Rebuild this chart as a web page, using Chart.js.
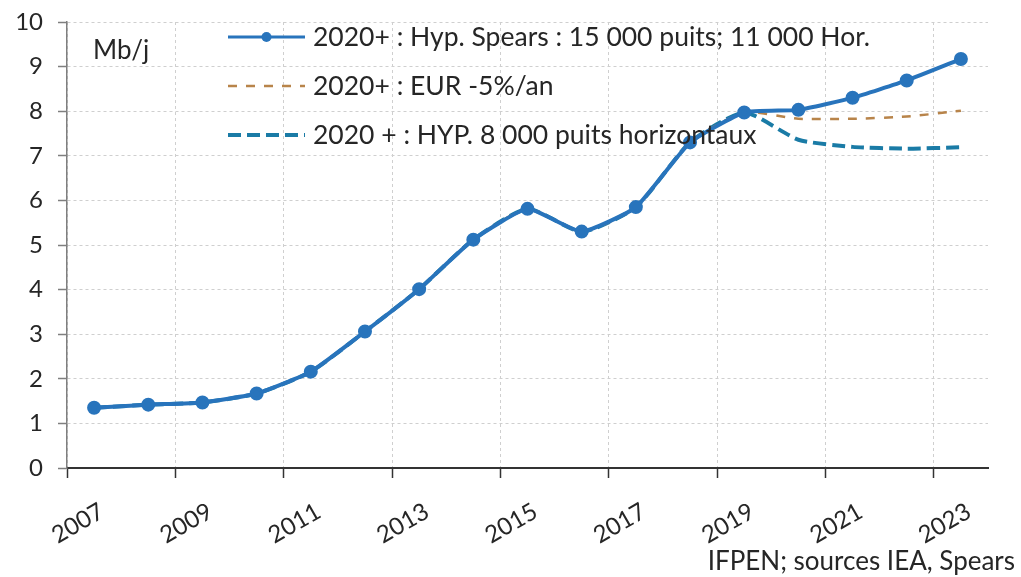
<!DOCTYPE html>
<html><head><meta charset="utf-8">
<script src="https://cdn.jsdelivr.net/npm/chart.js@4.4.1/dist/chart.umd.min.js"></script>
<style>html,body{margin:0;padding:0;background:#fff}#wrap{width:1021px;height:577px;position:relative}</style>
</head><body><div id="wrap"><canvas id="c" width="1021" height="577"></canvas></div>
<script>
// ---- data ----
const years = [2007,2008,2009,2010,2011,2012,2013,2014,2015,2016,2017,2018,2019,2020,2021,2022,2023];
const spears  = [1.35,1.42,1.47,1.67,2.16,3.06,4.01,5.12,5.81,5.30,5.85,7.30,7.97,8.03,8.30,8.69,9.17];
const eur5    = [1.35,1.42,1.47,1.67,2.16,3.06,4.01,5.12,5.81,5.30,5.85,7.30,7.97,7.83,7.83,7.88,8.01];
const hyp8000 = [1.35,1.42,1.47,1.67,2.16,3.06,4.01,5.12,5.81,5.30,5.85,7.30,7.97,7.36,7.20,7.16,7.19];
const tickYears = [2007,2009,2011,2013,2015,2017,2019,2021,2023];
const seriesLabels = [
  "2020+ : Hyp. Spears : 15 000 puits; 11 000 Hor.",
  "2020+ : EUR -5%/an",
  "2020 + : HYP. 8 000 puits horizontaux"
];
const unitLabel = "Mb/j";
const sourceLabel = "IFPEN; sources IEA, Spears";

const FONT = "Lato, 'Open Sans', sans-serif";
const TXT = '#262626';

// mid-year placement of annual values
const pts = arr => arr.map((v,i)=>({x: years[i] + 0.5, y: v}));

const overlayPlugin = {
  id: 'overlay',
  afterDatasetsDraw(chart){
    const ctx = chart.ctx, ca = chart.chartArea;
    const x0 = ca.left + 161, x1 = ca.left + 238, tx = ca.left + 246;
    const rows = [15, 64, 113];
    chart.data.datasets.forEach((ds,i)=>{
      const yy = ca.top + rows[i];
      ctx.save();
      ctx.strokeStyle = ds.borderColor;
      ctx.lineWidth = ds.legendWidth || ds.borderWidth;
      ctx.setLineDash(ds.borderDash || []);
      ctx.beginPath(); ctx.moveTo(x0, yy); ctx.lineTo(x1, yy); ctx.stroke();
      if (ds.pointRadius > 0) {
        ctx.setLineDash([]);
        ctx.fillStyle = ds.pointBackgroundColor;
        ctx.beginPath(); ctx.arc((x0+x1)/2, yy, ds.pointRadius, 0, Math.PI*2); ctx.fill();
      }
      ctx.fillStyle = TXT;
      ctx.font = "26.5px " + FONT;
      ctx.textBaseline = 'middle'; ctx.textAlign = 'left';
      ctx.fillText(ds.label, tx, yy);
      ctx.restore();
    });
    ctx.save();
    ctx.fillStyle = TXT; ctx.font = "26px " + FONT;
    ctx.textBaseline = 'middle'; ctx.textAlign = 'left';
    ctx.fillText(unitLabel, ca.left + 26, ca.top + 29);
    ctx.textAlign = 'right'; ctx.textBaseline = 'alphabetic';
    ctx.fillText(sourceLabel, chart.width - 6, chart.height - 7);
    ctx.restore();
  }
};

new Chart(document.getElementById('c'), {
  type: 'line',
  data: {
    datasets: [
      { label: seriesLabels[0], data: pts(spears), borderColor: '#2874BC', backgroundColor: '#2874BC',
        pointBackgroundColor: '#2874BC', pointBorderColor: '#2874BC', pointRadius: 5, borderWidth: 4, legendWidth: 3,
        tension: 0.15 },
      { label: seriesLabels[1], data: pts(eur5), borderColor: '#B8844A', backgroundColor: '#B8844A',
        pointRadius: 0, borderWidth: 2.5, borderDash: [9, 9], tension: 0.2 },
      { label: seriesLabels[2], data: pts(hyp8000), borderColor: '#1A7BA6', backgroundColor: '#1A7BA6',
        pointRadius: 0, borderWidth: 4, borderDash: [13, 6], tension: 0.2 }
    ]
  },
  options: {
    responsive: false, animation: false, devicePixelRatio: 1,
    layout: { padding: { left: 0, right: 33, top: 22, bottom: 0 } },
    plugins: { legend: { display: false }, tooltip: { enabled: false }, title: { display: false } },
    scales: {
      x: {
        type: 'linear', min: 2007, max: 2024,
        afterBuildTicks: s => { s.ticks = tickYears.map(v => ({ value: v })); },
        afterFit: s => { s.height = 109; s.paddingLeft = 0; s.paddingRight = 0; },
        ticks: { callback: v => String(v), minRotation: 30, maxRotation: 30, autoSkip: false,
                 labelOffset: 35, padding: 19, color: TXT, font: { family: FONT, size: 24 } },
        grid: { color: '#CFCFCF', lineWidth: 1, tickColor: '#333333', tickLength: 10, tickWidth: 1.5 },
        border: { color: '#333333', width: 2, dash: [3, 3] }
      },
      y: {
        min: 0, max: 10,
        afterFit: s => { s.width = 67; s.paddingTop = 0; s.paddingBottom = 0; },
        ticks: { stepSize: 1, padding: 15, color: TXT, font: { family: FONT, size: 24 } },
        grid: { color: '#CFCFCF', lineWidth: 1, tickColor: '#7F7F7F', tickLength: 9, tickWidth: 1.5 },
        border: { color: '#7F7F7F', width: 1.5, dash: [3, 3] }
      }
    }
  },
  plugins: [overlayPlugin]
});
</script>
</body></html>
